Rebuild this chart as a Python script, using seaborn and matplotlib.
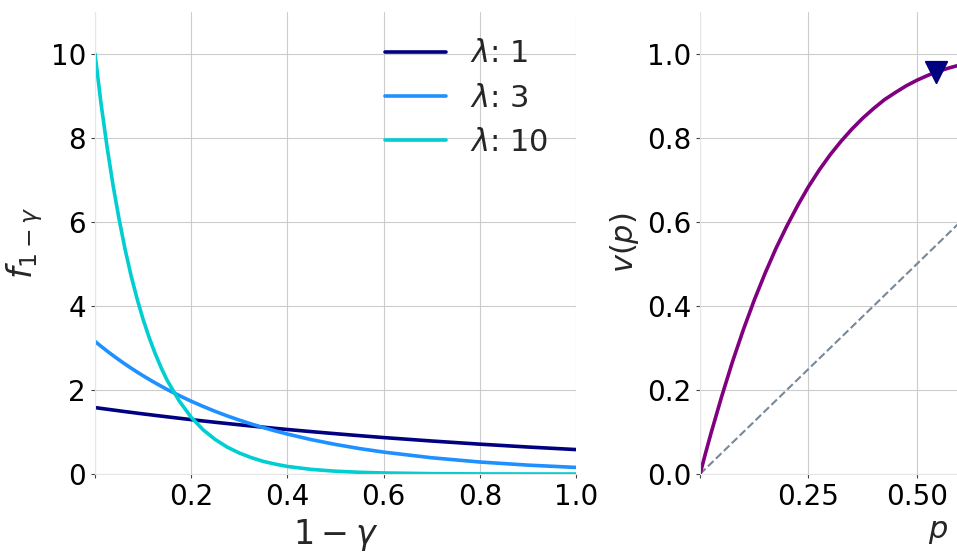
import matplotlib
matplotlib.use("Agg")
import matplotlib.pyplot as plt
import pandas as pd
import seaborn as sns

# left panel: density of 1 - gamma for three lambdas
gamma_x = [0.0, 0.0125, 0.025, 0.0375, 0.05, 0.0625, 0.075, 0.0875, 0.1, 0.1125, 0.125, 0.1375, 0.15,
           0.175, 0.2, 0.225, 0.25, 0.275, 0.3, 0.325, 0.35, 0.375, 0.4,
           0.45, 0.5, 0.55, 0.6,
           0.7, 0.8, 0.9, 1.0]
f_lam1 = [1.582, 1.562, 1.543, 1.524, 1.505, 1.486, 1.468, 1.449, 1.431, 1.414, 1.396, 1.379, 1.362,
          1.328, 1.295, 1.263, 1.232, 1.202, 1.172, 1.143, 1.115, 1.087, 1.060,
          1.009, 0.960, 0.913, 0.868,
          0.786, 0.711, 0.643, 0.582]
f_lam3 = [3.157, 3.041, 2.929, 2.821, 2.717, 2.617, 2.521, 2.428, 2.339, 2.253, 2.170, 2.090, 2.013,
          1.868, 1.733, 1.608, 1.491, 1.383, 1.284, 1.191, 1.105, 1.025, 0.951,
          0.818, 0.704, 0.606, 0.522,
          0.387, 0.286, 0.212, 0.157]
f_lam10 = [10.0, 8.82, 7.79, 6.87, 6.07, 5.35, 4.72, 4.17, 3.68, 3.25, 2.87, 2.53, 2.23,
           1.74, 1.35, 1.05, 0.82, 0.64, 0.50, 0.39, 0.30, 0.235, 0.18,
           0.11, 0.067, 0.041, 0.025,
           0.009, 0.003, 0.001, 0.0005]

lambdas = [1, 3, 10]
line_colors = ["navy", "dodgerblue", "darkturquoise"]

# right panel: value curve v(p)
p_vals = [0.0, 0.0125, 0.025, 0.05, 0.075, 0.1, 0.125, 0.15, 0.175, 0.2, 0.225, 0.25,
          0.275, 0.3, 0.325, 0.35, 0.375, 0.4, 0.425, 0.45, 0.475, 0.5,
          0.525, 0.55, 0.575, 0.6, 0.7, 0.8, 0.9, 1.0]
v_vals = [0.0, 0.049, 0.096, 0.185, 0.268, 0.344, 0.414, 0.478, 0.537, 0.590, 0.639, 0.684,
          0.724, 0.760, 0.792, 0.821, 0.847, 0.870, 0.891, 0.908, 0.924, 0.9375,
          0.949, 0.959, 0.967, 0.974, 0.992, 0.998, 0.9999, 1.0]
diag = [0.0, 1.0]
marker_p = [0.545]
marker_v = [0.957]


def plot_density(ax):
    series = [f_lam1, f_lam3, f_lam10]
    frames = []
    for lam, ys in zip(lambdas, series):
        frames.append(pd.DataFrame({"x": gamma_x, "f": ys, "lam": f"$\\lambda$: {lam}"}))
    df = pd.concat(frames, ignore_index=True)
    sns.lineplot(data=df, x="x", y="f", hue="lam", palette=line_colors,
                 linewidth=2.6, ax=ax)
    ax.set_xlim(0, 1)
    ax.set_ylim(0, 11)
    ax.set_xticks([0, 0.2, 0.4, 0.6, 0.8, 1.0])
    ax.set_xticklabels(["", "0.2", "0.4", "0.6", "0.8", "1.0"])
    ax.set_yticks([0, 2, 4, 6, 8, 10])
    ax.set_xlabel(r"$1-\gamma$", fontsize=24)
    ax.set_ylabel(r"$f_{1-\gamma}$", fontsize=24)
    ax.legend(loc="upper right", frameon=False, fontsize=22, title=None)


def plot_value(ax):
    sns.lineplot(x=diag, y=diag, color="lightslategray", linestyle="--",
                 linewidth=1.5, ax=ax)
    sns.lineplot(x=p_vals, y=v_vals, color="purple", linewidth=2.6, ax=ax)
    sns.scatterplot(x=marker_p, y=marker_v, marker="v", color="navy", s=240,
                    edgecolor="navy", zorder=5, ax=ax)
    ax.set_xlim(0, 1.1)
    ax.set_ylim(0, 1.1)
    # only the ticks that fall inside the visible part of the figure
    ax.set_xticks([0, 0.25, 0.5])
    ax.set_xticklabels(["", "0.25", "0.50"])
    ax.set_yticks([0, 0.2, 0.4, 0.6, 0.8, 1.0])
    ax.set_xlabel(r"$p$", fontsize=22)
    ax.set_ylabel(r"$v(p)$", fontsize=22)


def main():
    sns.set_style("whitegrid", {
        "axes.edgecolor": "#e6e6e6",
        "grid.color": "#cccccc",
        "xtick.bottom": True,
        "ytick.left": True,
        "xtick.color": "#444444",
        "ytick.color": "#444444",
    })
    plt.rcParams["font.family"] = ["DejaVu Sans"]
    plt.rcParams["xtick.labelsize"] = 20
    plt.rcParams["ytick.labelsize"] = 20
    plt.rcParams["xtick.labelcolor"] = "black"
    plt.rcParams["ytick.labelcolor"] = "black"
    plt.rcParams["xtick.major.size"] = 3
    plt.rcParams["ytick.major.size"] = 3

    fig = plt.figure(figsize=(9.57, 5.58), dpi=100)
    ax_left = fig.add_axes([0.0993, 0.1505, 0.5026, 0.828])
    ax_right = fig.add_axes([0.7315, 0.1505, 0.4984, 0.828])
    plot_density(ax_left)
    plot_value(ax_right)
    for ax in (ax_left, ax_right):
        for side in ("top", "right"):
            ax.spines[side].set_visible(False)
    fig.savefig("out.png", dpi=100)


if __name__ == "__main__":
    main()
